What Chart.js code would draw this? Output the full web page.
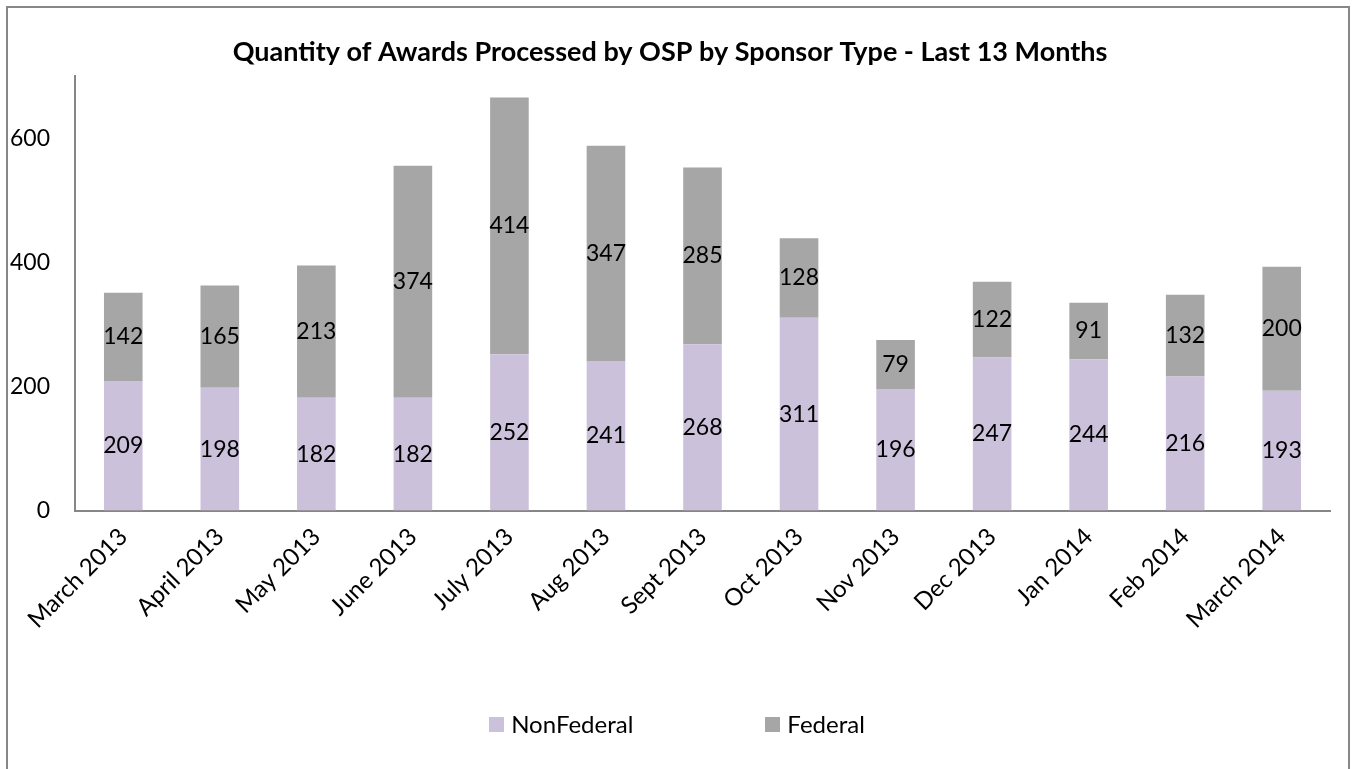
<!DOCTYPE html>
<html>
<head>
<meta charset="utf-8">
<script src="https://cdn.jsdelivr.net/npm/chart.js@4"></script>
<style>
  body { margin: 0; background: #fff; overflow: hidden; }
  #frame { position: absolute; left: 6px; top: 6px; width: 1340px; height: 800px; border: 2px solid #878787; }
  #chart { position: absolute; left: 0; top: 0; }
  #legend { position: absolute; left: 0; top: 709px; width: 1354px; text-align: center; font-family: Lato, sans-serif; font-size: 24px; color: #000; }
  #legend span.item { display: inline-block; margin: 0 66px; }
  #legend span.box { display: inline-block; width: 15px; height: 15px; margin-right: 7px; vertical-align: 1px; }
</style>
</head>
<body>
<div id="frame"></div>
<canvas id="chart" width="1354" height="769"></canvas>
<div id="legend"></div>
<script>
var months = ['March 2013', 'April 2013', 'May 2013', 'June 2013', 'July 2013', 'Aug 2013', 'Sept 2013',
              'Oct 2013', 'Nov 2013', 'Dec 2013', 'Jan 2014', 'Feb 2014', 'March 2014'];
var nonFederal = [209, 198, 182, 182, 252, 241, 268, 311, 196, 247, 244, 216, 193];
var federal    = [142, 165, 213, 374, 414, 347, 285, 128, 79, 122, 91, 132, 200];
var yTicks = [0, 200, 400, 600];

var textFont = 'Lato, sans-serif';

// values written in the middle of each bar segment
var segmentLabels = {
    id: 'segmentLabels',
    afterDatasetsDraw: function(chart){
        var ctx = chart.ctx;
        ctx.save();
        ctx.font = '23px ' + textFont;
        ctx.fillStyle = '#000';
        ctx.textAlign = 'center';
        ctx.textBaseline = 'middle';
        chart.data.datasets.forEach(function(ds, i){
            var meta = chart.getDatasetMeta(i);
            meta.data.forEach(function(bar, j){
                ctx.fillText(ds.data[j], bar.x, (bar.y + bar.base) / 2);
            });
        });
        ctx.restore();
    }
};

var chart = new Chart(document.getElementById('chart'), {
    type: 'bar',
    data: {
        labels: months,
        datasets: [{
            label: 'NonFederal',
            data: nonFederal,
            backgroundColor: '#CCC1DA'
        }, {
            label: 'Federal',
            data: federal,
            backgroundColor: '#A6A6A6'
        }]
    },
    options: {
        responsive: false,
        animation: false,
        layout: { padding: { left: 10, right: 24, top: 0, bottom: 131 } },
        datasets: { bar: { categoryPercentage: 0.8, barPercentage: 0.5 } },
        plugins: {
            legend: { display: false },
            tooltip: { enabled: false },
            title: {
                display: true,
                text: 'Quantity of Awards Processed by OSP by Sponsor Type - Last 13 Months',
                color: '#000',
                font: { family: textFont, size: 27, weight: 'bold' },
                padding: { top: 36, bottom: 8 }
            }
        },
        scales: {
            x: {
                stacked: true,
                grid: { display: false },
                border: { display: true, color: '#868686', width: 2 },
                afterFit: function(axis){
                    // rotated first label may hang past the y axis, as in the original
                    axis.paddingLeft = 0;
                },
                ticks: {
                    color: '#000',
                    font: { family: textFont, size: 24 },
                    maxRotation: 45,
                    minRotation: 45,
                    padding: 4
                }
            },
            y: {
                stacked: true,
                min: 0,
                max: 700,
                grid: { display: false },
                border: { display: true, color: '#868686', width: 2 },
                afterBuildTicks: function(axis){
                    axis.ticks = yTicks.map(function(v){ return { value: v }; });
                },
                afterFit: function(axis){
                    axis.width = 65;
                },
                ticks: {
                    color: '#000',
                    font: { family: textFont, size: 23 },
                    padding: 17
                }
            }
        }
    },
    plugins: [segmentLabels]
});

// legend as html, built from the chart's own legend items
var legendEl = document.getElementById('legend');
chart.options.plugins.legend.labels.generateLabels(chart).forEach(function(item){
    var span = document.createElement('span');
    span.className = 'item';
    var box = document.createElement('span');
    box.className = 'box';
    box.style.background = item.fillStyle;
    span.appendChild(box);
    span.appendChild(document.createTextNode(item.text));
    legendEl.appendChild(span);
});
</script>
</body>
</html>
